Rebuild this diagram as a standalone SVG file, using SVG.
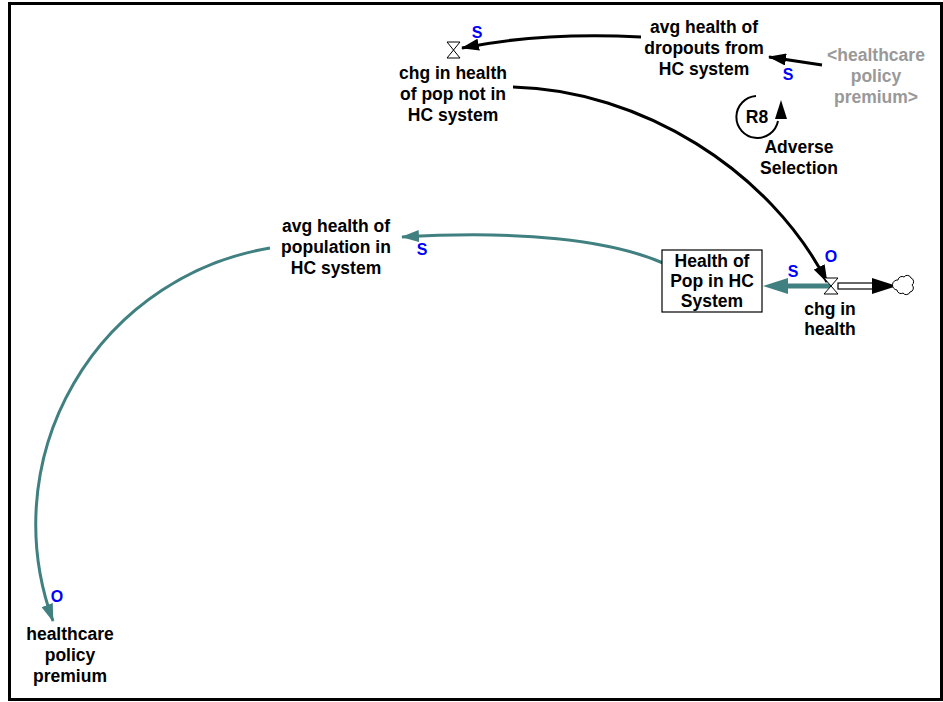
<svg xmlns="http://www.w3.org/2000/svg" width="943" height="702" viewBox="0 0 943 702">
  <style>
    .lbl { font-family: "Liberation Sans", Arial, sans-serif; font-weight: bold; font-size: 17.5px; fill: #000; text-anchor: middle; }
    .shadow { fill: #999999; }
    .pol { font-family: "Liberation Sans", Arial, sans-serif; font-weight: bold; font-size: 16px; fill: #0000ff; text-anchor: middle; }
    .link { fill: none; stroke: #000; stroke-width: 3; }
    .tlink { fill: none; stroke: #408080; stroke-width: 3; }
    .valve { fill: #fff; stroke: #000; stroke-width: 1; }
  </style>
  <defs>
    <marker id="headBlack" viewBox="0 0 18 12" refX="17" refY="6" markerWidth="18" markerHeight="12" orient="auto" markerUnits="userSpaceOnUse">
      <path d="M0,0 L18,6 L0,12 z" fill="#000"/>
    </marker>
    <marker id="headTeal" viewBox="0 0 18 12" refX="17" refY="6" markerWidth="18" markerHeight="12" orient="auto" markerUnits="userSpaceOnUse">
      <path d="M0,0 L18,6 L0,12 z" fill="#408080"/>
    </marker>
  </defs>

  <rect x="0" y="0" width="943" height="702" fill="#fff"/>
  <!-- view frame -->
  <rect x="9.5" y="3.5" width="932" height="696" fill="none" stroke="#000" stroke-width="3"/>

  <!-- causal links -->
  <g id="connectors">
    <path class="link" d="M641,37 Q540,32 462,48" marker-end="url(#headBlack)"/>
    <path class="link" d="M822,65 L769,57" marker-end="url(#headBlack)"/>
    <path class="link" d="M513,87 C640,90 770,170 827,282" marker-end="url(#headBlack)"/>
    <path class="tlink" d="M663,263 C610,240 520,230 402,237" marker-end="url(#headTeal)"/>
    <path class="tlink" d="M270,248 A280,280 0 0 0 53,621" marker-end="url(#headTeal)"/>
  </g>

  <!-- polarity marks -->
  <g id="polarities">
    <text class="pol" x="477" y="38">S</text>
    <text class="pol" x="788" y="80">S</text>
    <text class="pol" x="831" y="262">O</text>
    <text class="pol" x="793" y="277">S</text>
    <text class="pol" x="422" y="255">S</text>
    <text class="pol" x="57" y="602">O</text>
  </g>

  <!-- flow out of the stock -->
  <g id="flow-chg-in-health">
    <line x1="831" y1="286" x2="786" y2="286" stroke="#408080" stroke-width="5"/>
    <polygon points="788,278 763,286 788,294" fill="#408080"/>
    <rect x="838" y="283" width="36" height="6" fill="#fff" stroke="#000" stroke-width="1.2"/>
    <polygon points="872,278 897,286 872,294" fill="#000"/>
    <path class="valve" d="M824,278 H838 L824,294 H838 Z"/>
    <text class="lbl" x="830" y="315">chg in</text>
    <text class="lbl" x="830" y="335">health</text>
  </g>

  <g id="cloud">
    <path d="M898,280 a4,4 0 0 1 6,-3 a4,4 0 0 1 7,1 a4,4 0 0 1 1,7 a4,4 0 0 1 -2,7 a4,4 0 0 1 -7,1 a4,4 0 0 1 -6,-3 a4,4 0 0 1 1,-10 z" fill="#fff" stroke="#000" stroke-width="1"/>
  </g>

  <g id="stock-health-of-pop">
    <rect x="662" y="250" width="100" height="62" fill="#fff" stroke="#000" stroke-width="1.2"/>
    <text class="lbl" x="712" y="267">Health of</text>
    <text class="lbl" x="712" y="287">Pop in HC</text>
    <text class="lbl" x="712" y="307">System</text>
  </g>

  <g id="flow-chg-not-in-hc">
    <path class="valve" d="M447,42 H460 L447,58 H460 Z"/>
    <text class="lbl" x="453" y="79">chg in health</text>
    <text class="lbl" x="453" y="100">of pop not in</text>
    <text class="lbl" x="453" y="121">HC system</text>
  </g>

  <g id="avg-health-dropouts">
    <text class="lbl" x="704" y="33">avg health of</text>
    <text class="lbl" x="704" y="54">dropouts from</text>
    <text class="lbl" x="704" y="75">HC system</text>
  </g>

  <g id="shadow-healthcare-policy-premium">
    <text class="lbl shadow" x="876" y="61">&lt;healthcare</text>
    <text class="lbl shadow" x="876" y="82">policy</text>
    <text class="lbl shadow" x="876" y="103">premium&gt;</text>
  </g>

  <g id="avg-health-population">
    <text class="lbl" x="336" y="232">avg health of</text>
    <text class="lbl" x="336" y="253">population in</text>
    <text class="lbl" x="336" y="274">HC system</text>
  </g>

  <g id="healthcare-policy-premium">
    <text class="lbl" x="70" y="640">healthcare</text>
    <text class="lbl" x="70" y="661">policy</text>
    <text class="lbl" x="70" y="682">premium</text>
  </g>

  <!-- loop identifier -->
  <g id="loop-r8">
    <path d="M756,96 A21,21 0 1 0 778,121" fill="none" stroke="#000" stroke-width="2"/>
    <polygon points="781,100 775,119 787,119" fill="#000"/>
    <text class="lbl" x="757" y="123">R8</text>
    <text class="lbl" x="799" y="153">Adverse</text>
    <text class="lbl" x="799" y="174">Selection</text>
  </g>
</svg>
